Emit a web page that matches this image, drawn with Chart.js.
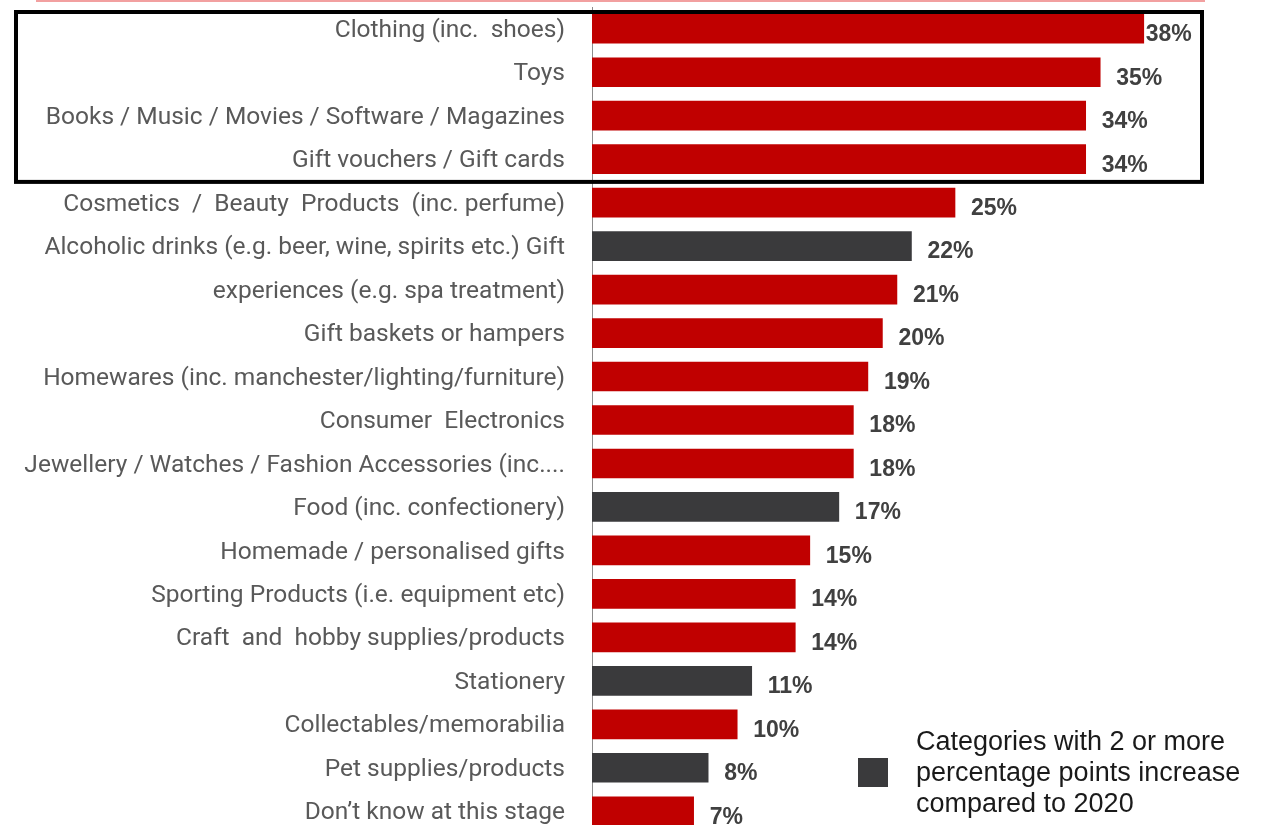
<!DOCTYPE html>
<html>
<head>
<meta charset="utf-8">
<title>Gift categories</title>
<script src="https://cdn.jsdelivr.net/npm/chart.js@4.4.1/dist/chart.umd.min.js"></script>
<style>
  html, body { margin: 0; padding: 0; background: #fff; overflow: hidden; }
  #wrap { width: 1273px; height: 833px; }
</style>
</head>
<body>
<div id="wrap"><canvas id="giftChart" width="1273" height="833"></canvas></div>
<script>
const categories = [
  'Clothing (inc.  shoes)',
  'Toys',
  'Books / Music / Movies / Software / Magazines',
  'Gift vouchers / Gift cards',
  'Cosmetics  /  Beauty  Products  (inc. perfume)',
  'Alcoholic drinks (e.g. beer, wine, spirits etc.) Gift',
  'experiences (e.g. spa treatment)',
  'Gift baskets or hampers',
  'Homewares (inc. manchester/lighting/furniture)',
  'Consumer  Electronics',
  'Jewellery / Watches / Fashion Accessories (inc....',
  'Food (inc. confectionery)',
  'Homemade / personalised gifts',
  'Sporting Products (i.e. equipment etc)',
  'Craft  and  hobby supplies/products',
  'Stationery',
  'Collectables/memorabilia',
  'Pet supplies/products',
  'Don\u2019t know at this stage'
];
const shares = [38, 35, 34, 34, 25, 22, 21, 20, 19, 18, 18, 17, 15, 14, 14, 11, 10, 8, 7];
// true = up 2+ percentage points on 2020
const increased = [false, false, false, false, false, true, false, false, false, false,
  false, true, false, false, false, true, false, true, false];
const legendLines = ['Categories with 2 or more', 'percentage points increase', 'compared to 2020'];

const RED = '#c00000';
const DARK = '#3a3a3c';

const extras = {
  id: 'extras',
  afterDatasetsDraw(chart) {
    const { ctx } = chart;
    const meta = chart.getDatasetMeta(0);
    ctx.save();
    // value labels
    ctx.font = 'bold 23px "Liberation Sans", Arial, sans-serif';
    ctx.fillStyle = '#404040';
    ctx.textAlign = 'left';
    ctx.textBaseline = 'middle';
    meta.data.forEach((bar, i) => {
      const gap = i === 0 ? 2 : 16;
      ctx.fillText(shares[i] + '%', bar.x + gap, bar.y + 6);
    });

    // frame round the top four
    const first = meta.data[0], fourth = meta.data[3];
    const half = (meta.data[1].y - first.y) / 2;
    ctx.strokeStyle = '#000';
    ctx.lineWidth = 4;
    ctx.strokeRect(16, first.y - half + 5, 1186, fourth.y - first.y + half * 2 - 4);

    // thin rule at the very top
    ctx.strokeStyle = '#f2a0a0';
    ctx.lineWidth = 2;
    ctx.beginPath();
    ctx.moveTo(36, 1);
    ctx.lineTo(1205, 1);
    ctx.stroke();

    // legend
    ctx.fillStyle = DARK;
    ctx.fillRect(858, 758, 30, 29);
    ctx.font = '27px "Liberation Sans", Arial, sans-serif';
    ctx.fillStyle = '#1a1a1a';
    legendLines.forEach((t, i) => ctx.fillText(t, 916, 743 + i * 31));
    ctx.restore();
  }
};

const chart = new Chart(document.getElementById('giftChart'), {
  type: 'bar',
  data: {
    labels: categories,
    datasets: [{
      data: shares,
      backgroundColor: increased.map(v => v ? DARK : RED),
      barThickness: 29
    }]
  },
  options: {
    indexAxis: 'y',
    responsive: false,
    animation: false,
    layout: { padding: { top: 7, right: 0, bottom: 0, left: 0 } },
    plugins: {
      legend: { display: false },
      tooltip: { enabled: false }
    },
    scales: {
      x: {
        display: false,
        min: 0,
        max: 46.9
      },
      y: {
        afterFit: (scale) => {
          scale.width = 592;
          scale.paddingTop = 0;
          scale.paddingBottom = 0;
        },
        grid: { display: false, drawTicks: false },
        border: { display: true, color: '#8c8c8c', width: 1 },
        ticks: {
          padding: 27,
          labelOffset: 2,
          color: '#595959',
          font: { family: 'Roboto, sans-serif', size: 24.5 }
        }
      }
    }
  },
  plugins: [extras]
});
</script>
</body>
</html>
